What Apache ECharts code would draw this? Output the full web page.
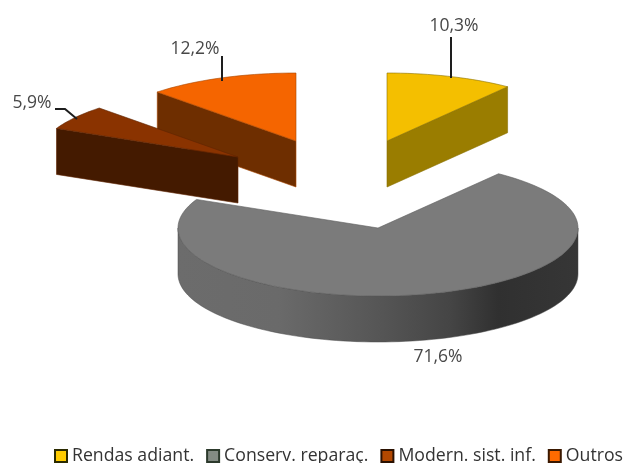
<!DOCTYPE html>
<html><head><meta charset="utf-8">
<style>html,body{margin:0;padding:0;background:#fff}#c{width:627px;height:463px}</style>
<script src="https://cdn.jsdelivr.net/npm/echarts@6/dist/echarts.min.js"></script>
</head><body><div id="c"></div>
<script>
const categories = ['Rendas adiant.', 'Conserv. reparaç.', 'Modern. sist. inf.', 'Outros'];
const shares = [10.3, 71.6, 5.9, 12.2];

const topColors = ['#F4BF00', '#7B7B7B', '#8A3300', '#F56500'];
const wallColors = ['#9A7D00', null, '#441A00', '#6E2E00'];
const edgeColors = ['#8a7000', '#5c5c5c', '#5e2400', '#a84600'];
const legendFill = ['#FFCC00', '#848C84', '#B34800', '#FF6A00'];
const legendEdge = ['#2a2a00', '#2c3a2c', '#2a1000', '#3a1800'];
const paintOrder = [2, 4, 3, 1];

const RX = 200, RY = 68, DEPTH = 46, CX = 378, CY = 228;
const explode = [[9, -87], [0, 0], [-140, -71], [-82, -87]];
const labelAt = [[454, 26], [438, 357], [32, 103], [195, 49]];
const leaders = [
  [[451, 37], [451, 78]],
  null,
  [[55, 109], [65, 109], [77, 119]],
  [[222, 56], [222, 81]]
];
const total = shares.reduce((a, b) => a + b, 0);
const fmt = v => v.toFixed(1).replace('.', ',') + '%';

function arcPt(cx, cy, deg, dy) {
  const r = deg * Math.PI / 180;
  return [cx + RX * Math.sin(r), cy - RY * Math.cos(r) + (dy || 0)];
}
function arc(cx, cy, a0, a1, dy) {
  const out = [];
  const n = Math.max(2, Math.ceil(Math.abs(a1 - a0) / 2));
  for (let k = 0; k <= n; k++) out.push(arcPt(cx, cy, a0 + (a1 - a0) * k / n, dy));
  return out;
}

function renderSlice(params, api) {
  const i = params.seriesIndex;
  const v = api.value(0);
  const before = shares.slice(0, i).reduce((a, b) => a + b, 0);
  const a0 = before / total * 360, a1 = (before + v) / total * 360;
  const cx = CX + explode[i][0], cy = CY + explode[i][1];
  const children = [];
  const apex = [cx, cy];

  if (i === 0) {
    const p = arcPt(cx, cy, a1);
    children.push({ type: 'polygon', shape: { points: [apex, p, [p[0], p[1] + DEPTH], [cx, cy + DEPTH]] },
      style: { fill: wallColors[i], stroke: edgeColors[i], lineWidth: 0.6 } });
  }
  if (i === 2 || i === 3) {
    const p = arcPt(cx, cy, a0);
    children.push({ type: 'polygon', shape: { points: [p, apex, [cx, cy + DEPTH], [p[0], p[1] + DEPTH]] },
      style: { fill: wallColors[i], stroke: edgeColors[i], lineWidth: 0.6 } });
  }
  if (i === 1) {
    const upper = arc(cx, cy, 90, 270, 0);
    const lower = arc(cx, cy, 270, 90, DEPTH);
    children.push({ type: 'polygon', shape: { points: upper.concat(lower) },
      style: { fill: { type: 'linear', x: 0, y: 0, x2: 1, y2: 0, colorStops: [
        { offset: 0, color: '#6c6c6c' }, { offset: 0.25, color: '#6a6a6a' },
        { offset: 0.5, color: '#565656' }, { offset: 0.68, color: '#454545' },
        { offset: 0.8, color: '#303030' }, { offset: 1, color: '#363636' }] },
        stroke: '#4a4a4a', lineWidth: 0.5 } });
  }
  children.push({ type: 'polygon',
    shape: { points: [apex].concat(arc(cx, cy, a0, a1, 0)) },
    style: { fill: topColors[i], stroke: edgeColors[i], lineWidth: 0.6 } });

  if (leaders[i]) children.push({ type: 'polyline', shape: { points: leaders[i] },
    style: { fill: null, stroke: '#1e1e1e', lineWidth: 2 } });
  children.push({ type: 'text', style: { text: fmt(v), x: labelAt[i][0], y: labelAt[i][1],
    fill: '#484848', font: '17.5px "Open Sans"', align: 'center', verticalAlign: 'middle' } });
  return { type: 'group', children };
}

const chart = echarts.init(document.getElementById('c'), null, { renderer: 'canvas' });
chart.setOption({
  backgroundColor: '#fff',
  animation: false,
  legend: {
    left: 49, top: 442, width: 600, padding: 5, itemWidth: 12, itemHeight: 12, itemGap: 12, selectedMode: false,
    textStyle: { color: '#333', fontFamily: 'Open Sans', fontSize: 17.7 },
    data: categories.map((n, i) => ({ name: n, icon: 'rect',
      itemStyle: { color: legendFill[i], borderColor: legendEdge[i], borderWidth: 2 } }))
  },
  series: categories.map((n, i) => ({
    type: 'custom', name: n, coordinateSystem: 'none', z: paintOrder[i], silent: true,
    itemStyle: { color: legendFill[i] },
    renderItem: renderSlice, data: [[shares[i]]]
  }))
});
</script></body></html>
